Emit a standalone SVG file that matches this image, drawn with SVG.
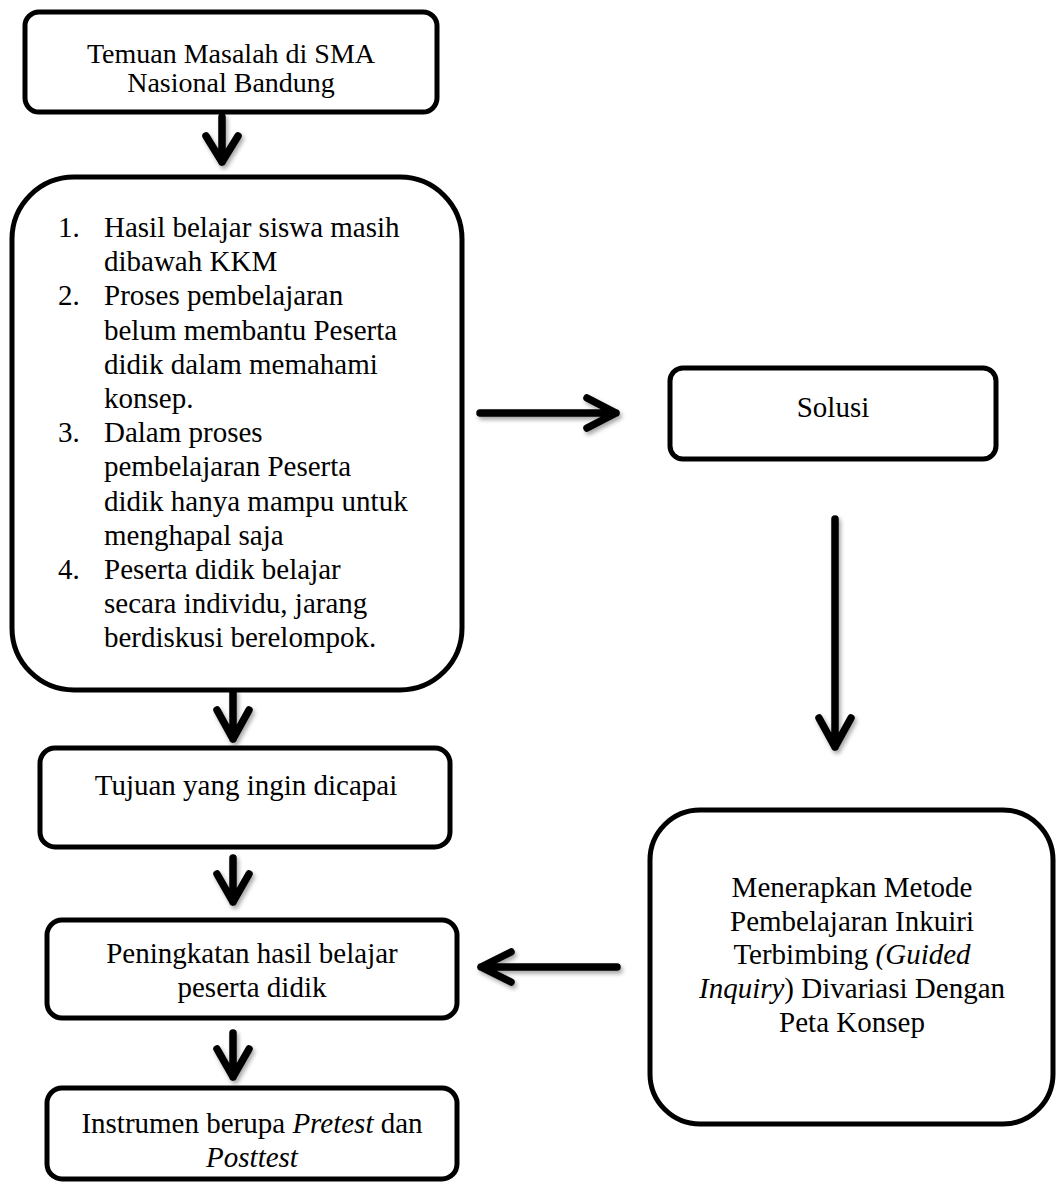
<svg xmlns="http://www.w3.org/2000/svg" width="1056" height="1183" viewBox="0 0 1056 1183">
<style>
.box{fill:#fff;stroke:#000;stroke-width:5}
.t{font-family:"Liberation Serif","Times New Roman",serif;font-size:29px;fill:#000}
.c{text-anchor:middle}
.arr{fill:none;stroke:#000;stroke-width:7.5;stroke-linecap:round;stroke-linejoin:round}
</style>
<defs>
<filter id="sh" x="-50%" y="-50%" width="200%" height="200%">
<feDropShadow dx="2" dy="3" stdDeviation="2" flood-color="#000" flood-opacity="0.35"/>
</filter>
</defs>
<rect width="1056" height="1183" fill="#fff"/>
<g id="n-temuan">
<rect class="box" x="25" y="12" width="412" height="100" rx="14"/>
<text class="t c" x="231" y="63" style="font-size:28px">Temuan Masalah di SMA</text>
<text class="t c" x="231" y="92" style="font-size:28px">Nasional Bandung</text>
</g>
<g id="n-masalah">
<rect class="box" x="12" y="177" width="450" height="513" rx="62"/>
<g class="t">
<text x="58" y="237">1.</text><text x="104" y="237">Hasil belajar siswa masih</text>
<text x="104" y="271">dibawah KKM</text>
<text x="58" y="305">2.</text><text x="104" y="305">Proses pembelajaran</text>
<text x="104" y="340">belum membantu Peserta</text>
<text x="104" y="374">didik dalam memahami</text>
<text x="104" y="408">konsep.</text>
<text x="58" y="442">3.</text><text x="104" y="442">Dalam proses</text>
<text x="104" y="476">pembelajaran Peserta</text>
<text x="104" y="511">didik hanya mampu untuk</text>
<text x="104" y="545">menghapal saja</text>
<text x="58" y="579">4.</text><text x="104" y="579">Peserta didik belajar</text>
<text x="104" y="613">secara individu, jarang</text>
<text x="104" y="647">berdiskusi berelompok.</text>
</g>
</g>
<g id="n-solusi">
<rect class="box" x="670" y="368" width="326" height="91" rx="13"/>
<text class="t c" x="833" y="417">Solusi</text>
</g>
<g id="n-tujuan">
<rect class="box" x="40" y="748" width="410" height="99" rx="15"/>
<text class="t c" x="246" y="795">Tujuan yang ingin dicapai</text>
</g>
<g id="n-peningkatan">
<rect class="box" x="47" y="920" width="410" height="98" rx="15"/>
<text class="t c" x="252" y="963">Peningkatan hasil belajar</text>
<text class="t c" x="252" y="997">peserta didik</text>
</g>
<g id="n-instrumen">
<rect class="box" x="47" y="1088" width="410" height="91" rx="15"/>
<text class="t c" x="252" y="1133">Instrumen berupa <tspan font-style="italic">Pretest</tspan> dan</text>
<text class="t c" x="252" y="1167" font-style="italic">Posttest</text>
</g>
<g id="n-metode">
<rect class="box" x="650" y="810" width="403" height="314" rx="50"/>
<text class="t c" x="852" y="897">Menerapkan Metode</text>
<text class="t c" x="852" y="931">Pembelajaran Inkuiri</text>
<text class="t c" x="852" y="964">Terbimbing <tspan font-style="italic">(Guided</tspan></text>
<text class="t c" x="852" y="998"><tspan font-style="italic">Inquiry</tspan>) Divariasi Dengan</text>
<text class="t c" x="852" y="1032">Peta Konsep</text>
</g>
<g id="connectors" class="arr" filter="url(#sh)">
<path d="M222 117V162M206 136L222 162L238 136"/>
<path d="M233 692V739M217 710L233 739L249 710"/>
<path d="M233 858V902M217 874L233 902L249 874"/>
<path d="M233 1033V1077M217 1049L233 1077L249 1049"/>
<path d="M480 413H616M587 398L616 413L587 428"/>
<path d="M835 519V747M819 718L835 747L851 718"/>
<path d="M617 967H481M511 952L481 967L511 982"/>
</g>
</svg>
